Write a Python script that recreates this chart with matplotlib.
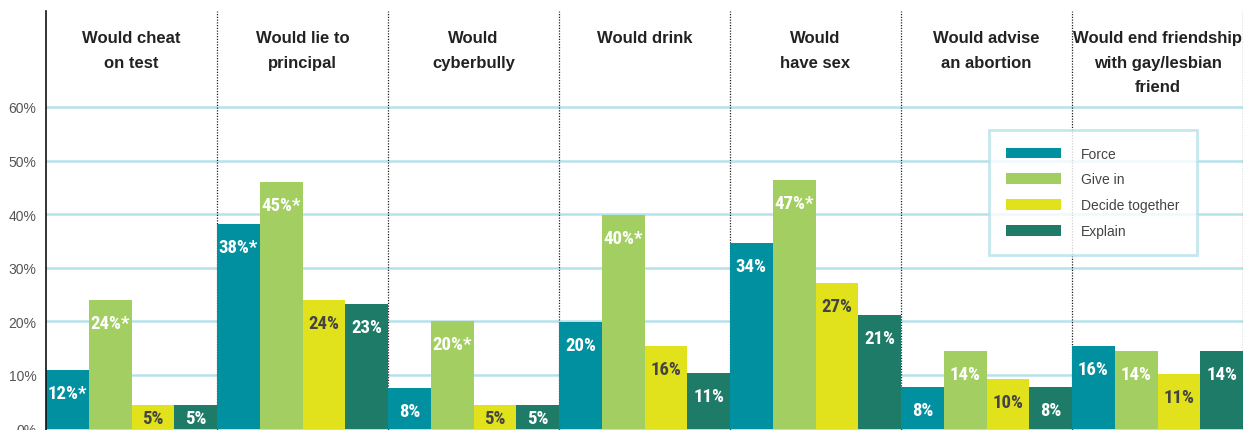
import matplotlib
matplotlib.use("Agg")
import matplotlib.pyplot as plt
from matplotlib.patches import Patch
from matplotlib import font_manager as fm

categories = ["Would cheat\non test", "Would lie to\nprincipal", "Would\ncyberbully",
              "Would drink", "Would\nhave sex", "Would advise\nan abortion",
              "Would end friendship\nwith gay/lesbian\nfriend"]
series = ["Force", "Give in", "Decide together", "Explain"]
force = [10.9, 38.2, 7.6, 19.9, 34.6, 7.8, 15.4]
give_in = [24.0, 46.0, 20.1, 39.9, 46.4, 14.5, 14.5]
decide = [4.4, 24.0, 4.4, 15.4, 27.2, 9.3, 10.2]
explain = [4.4, 23.2, 4.4, 10.4, 21.2, 7.8, 14.5]
force_lbl = ["12%*", "38%*", "8%", "20%", "34%", "8%", "16%"]
give_in_lbl = ["24%*", "45%*", "20%*", "40%*", "47%*", "14%", "14%"]
decide_lbl = ["5%", "24%", "5%", "16%", "27%", "10%", "11%"]
explain_lbl = ["5%", "23%", "5%", "11%", "21%", "8%", "14%"]
yticks = [0, 10, 20, 30, 40, 50, 60]

colors = ["#00909f", "#a3cf62", "#e2e21c", "#1e7b68"]
label_colors = ["white", "white", "#444444", "white"]
values = [force, give_in, decide, explain]
labels = [force_lbl, give_in_lbl, decide_lbl, explain_lbl]

names = {f.name for f in fm.fontManager.ttflist}
narrow = None
for cand in ["Liberation Sans Narrow", "Roboto Condensed", "Open Sans Condensed", "DejaVu Sans"]:
    if cand in names:
        narrow = cand
        break

fig = plt.figure(figsize=(12.46, 4.31), dpi=100)
ax = fig.add_axes([46/1246, 0, 1197/1246, 419/431])
ax.set_xlim(0, len(categories))
ax.set_ylim(-0.26, 77.9)

for y in yticks:
    ax.axhline(y, color="#b5e2ea", lw=1.8, zorder=0)
for i in range(1, len(categories) + 1):
    ax.axvline(i, color="#222222", lw=0.9, ls=(0, (1, 1.2)), zorder=0.5)

nser = len(series)
w = 1.0 / nser
for j in range(nser):
    xs = [i + (j + 0.5) * w for i in range(len(categories))]
    ax.bar(xs, values[j], width=w, color=colors[j], zorder=2, label=series[j], linewidth=0)
    for x, v, t in zip(xs, values[j], labels[j]):
        ty = max(v - 4.3, 1.9)
        ax.text(x, ty, t, ha="center", va="center", color=label_colors[j],
                fontsize=13.5, fontweight="bold", family=[narrow, "DejaVu Sans"],
                fontstretch="condensed", zorder=3)

for i, c in enumerate(categories):
    ax.text(i + 0.5, 74.3, c, ha="center", va="top", fontsize=12, fontweight="bold",
            color="#222222", family=["Liberation Sans", "DejaVu Sans"], linespacing=1.78, zorder=3)

ax.set_yticks(yticks)
ax.set_yticklabels([f"{y}%" for y in yticks], fontsize=10, color="#555555",
                   family=["Liberation Sans", "DejaVu Sans"])
ax.tick_params(axis="y", length=0, pad=7)
ax.set_xticks([])
for s in ["top", "right", "bottom"]:
    ax.spines[s].set_visible(False)
ax.spines["left"].set_color("#111111")
ax.spines["left"].set_linewidth(1.2)

handles = [Patch(facecolor=colors[j], label=series[j]) for j in range(nser)]
leg = ax.legend(handles=handles, loc="upper left", bbox_to_anchor=(989/1246, 1 - 131/431),
                bbox_transform=fig.transFigure, frameon=True, fancybox=False,
                handlelength=4.0, handleheight=0.8, handletextpad=1.45, labelspacing=0.85,
                borderpad=1.2, borderaxespad=0,
                prop={"family": ["Liberation Sans", "DejaVu Sans"], "size": 10})
leg.get_frame().set_edgecolor("#b5e2ea")
leg.get_frame().set_linewidth(2)
leg.set_zorder(5)
for t in leg.get_texts():
    t.set_color("#444444")

fig.savefig("out.png", dpi=100)
